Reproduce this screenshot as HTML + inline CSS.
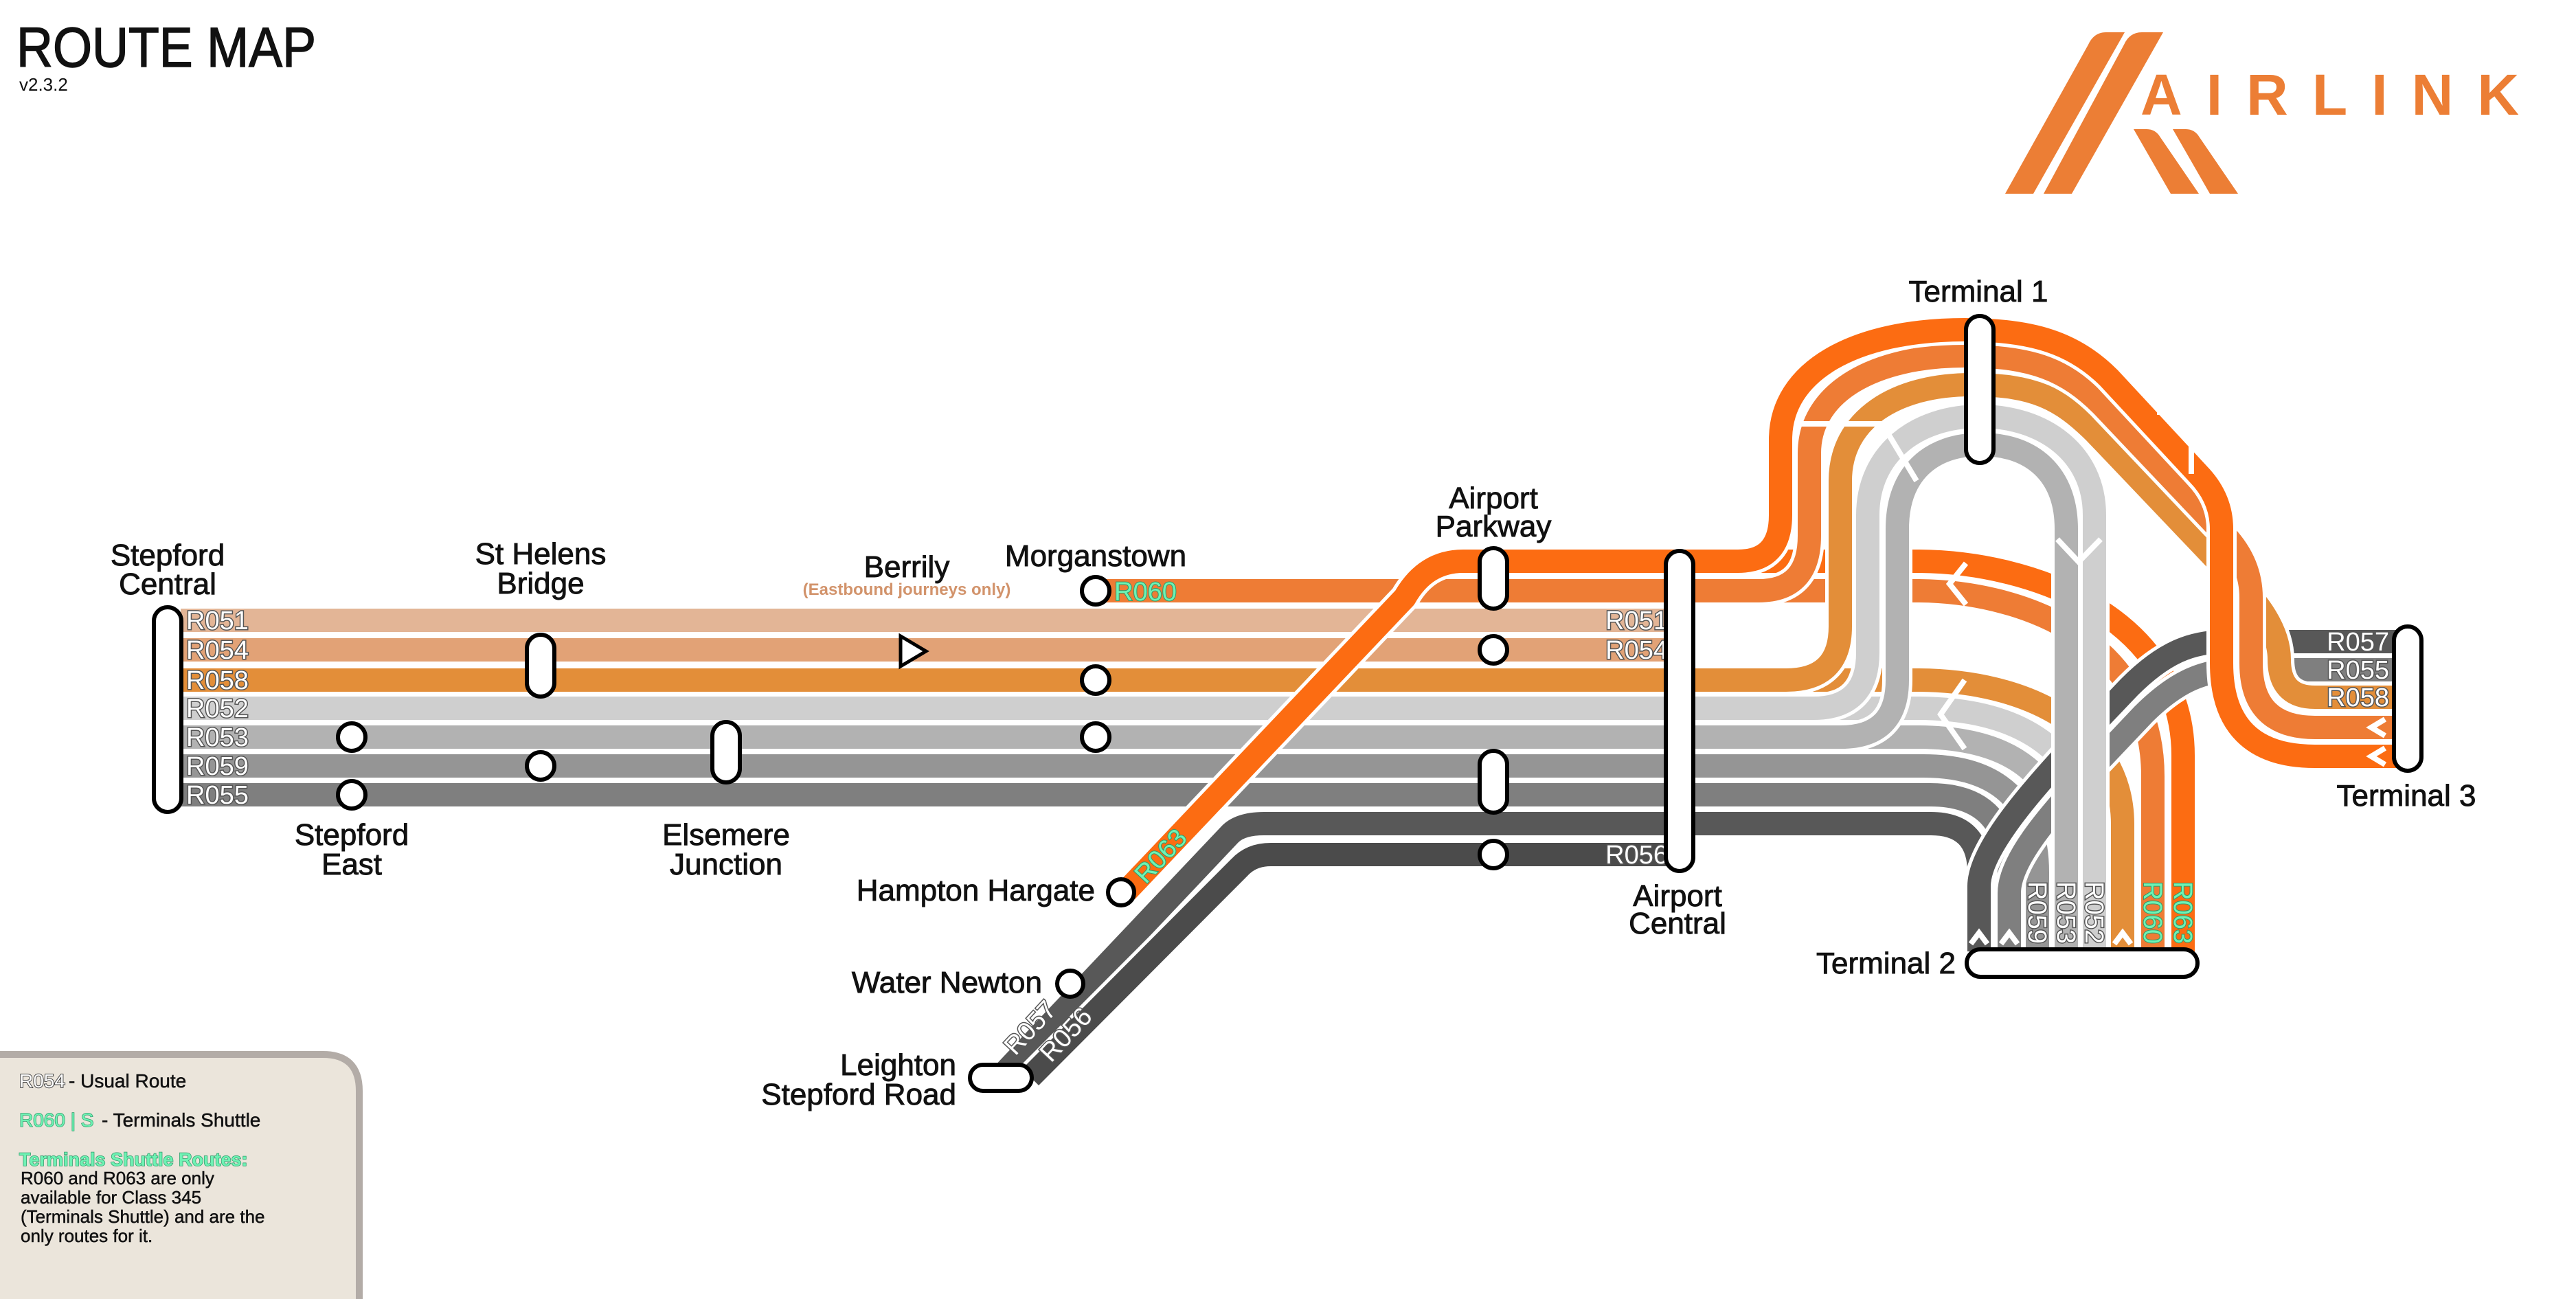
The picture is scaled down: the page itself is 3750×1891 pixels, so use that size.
<!DOCTYPE html>
<html><head><meta charset="utf-8">
<style>
html,body{margin:0;padding:0;background:#fff;}
svg{display:block;font-family:"Liberation Sans","DejaVu Sans",sans-serif;}
.lbl{font-size:38px;fill:#fff;stroke:#555;stroke-width:3;paint-order:stroke;}
.grn{font-size:38px;fill:#6ff2b4;stroke:#2f9a6a;stroke-width:2;paint-order:stroke;}
.st{font-size:44px;fill:#111;stroke:#111;stroke-width:0.9;}
.stn{fill:#fff;stroke:#000;stroke-width:6;}
.chev{fill:none;stroke:#fff;stroke-width:8;stroke-linejoin:miter;}
</style></head>
<body>
<svg width="3750" height="1891" viewBox="0 0 3750 1891" xmlns="http://www.w3.org/2000/svg">
<defs>
<path id="p051" d="M263 903 H2445"/>
<path id="p054" d="M263 946 H2445"/>
<path id="p058" d="M263 990 H2790 C2950 990 3090 1060 3090 1200 V1385"/>
<path id="p052" d="M263 1031 H2790 C2950 1031 3049 1100 3049 1250 V1385"/>
<path id="p053" d="M263 1073 H2790 C2930 1073 3008 1130 3008 1260 V1385"/>
<path id="p059" d="M263 1115 H2800 C2910 1115 2966 1170 2966 1270 V1385"/>
<path id="p055" d="M263 1157 H2810 C2890 1157 2925 1200 2925 1280 V1385"/>
<path id="p057" d="M1455 1569 L1790 1215 Q1805 1199 1840 1199 H2811 Q2881 1199 2881 1270 V1385"/>
<path id="p056" d="M1500 1568 L1805 1262 Q1822 1244 1850 1244 H2445"/>
<path id="p060t" d="M1595 860 H2790 C2940 860 3134 930 3134 1130 V1385"/>
<path id="p063t" d="M2300 817 H2790 C2960 817 3178 900 3178 1100 V1385"/>
<path id="p057b" d="M2881 1385 V1290 C2881 1240 2950 1160 3000 1105 L3100 1000 C3150 950 3190 934 3240 934 H3490"/>
<path id="p055b" d="M2925 1385 V1300 C2925 1250 2990 1180 3030 1135 L3120 1040 C3170 990 3210 975 3260 975 H3490"/>
<path id="l053" d="M2680 1073 Q2762 1073 2762 990 V770 C2762 690 2810 647 2884 647 C2958 647 3008 690 3008 770 V1385"/>
<path id="l052" d="M2640 1031 Q2719 1031 2719 950 V750 C2719 660 2790 606 2882 606 C2975 606 3049 660 3049 750 V1385"/>
<path id="l058" d="M2600 990 Q2679 990 2679 912 V700 C2679 610 2760 560 2870 560 C2960 560 3000 580 3050 630 L3250 840 Q3318 905 3318 960 Q3318 1015 3370 1015 H3490"/>
<path id="l060" d="M2560 860 Q2634 860 2634 780 V660 C2634 570 2730 518 2860 518 C2960 518 3010 540 3060 590 L3240 780 Q3277 820 3277 870 V965 Q3277 1059 3370 1059 H3490"/>
<path id="l063" d="M1640 1297 L2045 870 Q2075 817 2130 817 H2530 Q2592 817 2592 750 V640 C2592 540 2700 480 2860 480 C2960 480 3020 500 3070 550 L3200 690 Q3234 725 3234 770 V965 Q3234 1101 3370 1101 H3490"/>
</defs>

<!-- title -->
<text x="24" y="97" font-size="82" fill="#111" stroke="#111" stroke-width="1.5" textLength="436" lengthAdjust="spacingAndGlyphs">ROUTE MAP</text>
<text x="28" y="132" font-size="26" fill="#111">v2.3.2</text>

<!-- logo -->
<g fill="#ec7e35">
<path d="M2919 282 L3040 65 Q3048 47 3066 47 L3093 47 L2960 282 Z"/>
<path d="M2975 282 L3092 65 Q3100 47 3118 47 L3149 47 L3016 282 Z"/>
<path d="M3106 188 L3125 188 Q3138 188 3145 200 L3201 282 L3160 282 Z"/>
<path d="M3163 188 L3182 188 Q3195 188 3202 200 L3258 282 L3217 282 Z"/>
<text x="3116" y="167" font-size="84" font-weight="bold" textLength="551" lengthAdjust="spacing">AIRLINK</text>
</g>

<!-- lines -->
<g fill="none" stroke-linecap="butt" stroke-linejoin="round">
<use href="#p051" stroke="#fff" stroke-width="44"/><use href="#p051" stroke="#e3b596" stroke-width="34"/>
<use href="#p054" stroke="#fff" stroke-width="44"/><use href="#p054" stroke="#e2a276" stroke-width="34"/>
<use href="#p057" stroke="#fff" stroke-width="44"/><use href="#p057" stroke="#585858" stroke-width="34"/>
<use href="#p055" stroke="#fff" stroke-width="44"/><use href="#p055" stroke="#7f7f7f" stroke-width="34"/>
<use href="#p059" stroke="#fff" stroke-width="44"/><use href="#p059" stroke="#959595" stroke-width="34"/>
<use href="#p053" stroke="#fff" stroke-width="44"/><use href="#p053" stroke="#b2b2b2" stroke-width="34"/>
<use href="#p052" stroke="#fff" stroke-width="44"/><use href="#p052" stroke="#cfcfcf" stroke-width="34"/>
<use href="#p058" stroke="#fff" stroke-width="44"/><use href="#p058" stroke="#e38e39" stroke-width="34"/>
<use href="#p056" stroke="#fff" stroke-width="44"/><use href="#p056" stroke="#4b4b4b" stroke-width="34"/>
<use href="#p060t" stroke="#fff" stroke-width="44"/><use href="#p060t" stroke="#ee7c35" stroke-width="34"/>
<use href="#p063t" stroke="#fff" stroke-width="44"/><use href="#p063t" stroke="#fc6c12" stroke-width="34"/>
<use href="#p055b" stroke="#fff" stroke-width="44"/><use href="#p055b" stroke="#7f7f7f" stroke-width="34"/>
<use href="#p057b" stroke="#fff" stroke-width="44"/><use href="#p057b" stroke="#585858" stroke-width="34"/>
<use href="#l053" stroke="#fff" stroke-width="44"/><use href="#l053" stroke="#b2b2b2" stroke-width="34"/>
<use href="#l052" stroke="#fff" stroke-width="44"/><use href="#l052" stroke="#cfcfcf" stroke-width="34"/>
<use href="#l058" stroke="#fff" stroke-width="44"/><use href="#l058" stroke="#e38e39" stroke-width="34"/>
<use href="#l060" stroke="#fff" stroke-width="44"/><use href="#l060" stroke="#ee7c35" stroke-width="34"/>
<use href="#l063" stroke="#fff" stroke-width="44"/><use href="#l063" stroke="#fc6c12" stroke-width="34"/>
</g>

<!-- chevrons -->
<polyline class="chev" points="2620,617 2740,617 2790,700"/>
<polyline class="chev" points="2995,785 3026,818 3058,785"/>
<polyline class="chev" points="2862,820 2838,850 2862,880"/>
<polyline class="chev" points="2860,990 2825,1040 2860,1090"/>
<polyline class="chev" points="3140,600 3190,600 3190,690"/>
<polyline class="chev" points="3472,1047 3452,1059 3472,1071"/>
<polyline class="chev" points="3472,1089 3452,1101 3472,1113"/>
<polyline class="chev" points="2869,1374 2881,1358 2893,1374"/>
<polyline class="chev" points="2913,1374 2925,1358 2937,1374"/>
<polyline class="chev" points="3078,1374 3090,1358 3102,1374"/>

<!-- route labels -->
<g class="lbl">
<text x="271" y="916">R051</text>
<text x="271" y="959">R054</text>
<text x="271" y="1003">R058</text>
<text x="271" y="1044">R052</text>
<text x="271" y="1086">R053</text>
<text x="271" y="1128">R059</text>
<text x="271" y="1170">R055</text>
<text x="2428" y="916" text-anchor="end">R051</text>
<text x="2428" y="959" text-anchor="end">R054</text>
<text x="2428" y="1257" text-anchor="end">R056</text>
<text x="3478" y="947" text-anchor="end">R057</text>
<text x="3478" y="988" text-anchor="end">R055</text>
<text x="3478" y="1028" text-anchor="end">R058</text>
<text transform="translate(2953,1283) rotate(90)">R059</text>
<text transform="translate(2995,1283) rotate(90)">R053</text>
<text transform="translate(3036,1283) rotate(90)">R052</text>
<text transform="translate(1478,1538) rotate(-47)">R057</text>
<text transform="translate(1530,1548) rotate(-47)">R056</text>
</g>
<g class="grn">
<text x="1622" y="874">R060</text>
<text transform="translate(3121,1283) rotate(90)">R060</text>
<text transform="translate(3165,1283) rotate(90)">R063</text>
<text transform="translate(1668,1288) rotate(-47)">R063</text>
</g>

<!-- stations -->
<g class="stn">
<rect x="224" y="884" width="40" height="298" rx="20"/>
<circle cx="512" cy="1073" r="20"/>
<circle cx="512" cy="1157" r="20"/>
<rect x="767" y="924" width="40" height="90" rx="20"/>
<circle cx="787" cy="1115" r="20"/>
<rect x="1037" y="1051" width="40" height="88" rx="20"/>
<circle cx="1595" cy="860" r="20"/>
<circle cx="1595" cy="990" r="20"/>
<circle cx="1595" cy="1073" r="20"/>
<rect x="2154" y="798" width="40" height="88" rx="20"/>
<circle cx="2174" cy="946" r="20"/>
<rect x="2154" y="1093" width="40" height="90" rx="20"/>
<circle cx="2174" cy="1244" r="20"/>
<rect x="2425" y="802" width="40" height="466" rx="20"/>
<circle cx="1632" cy="1299" r="19"/>
<circle cx="1558" cy="1432" r="19"/>
<rect x="1412" y="1550" width="90" height="38" rx="19"/>
<rect x="2862" y="460" width="40" height="214" rx="20"/>
<rect x="2863" y="1382" width="336" height="40" rx="20"/>
<rect x="3485" y="912" width="40" height="210" rx="20"/>
</g>
<polygon points="1311,926 1348,948 1311,970" fill="#fff" stroke="#000" stroke-width="5"/>

<!-- station names -->
<g class="st" text-anchor="middle">
<text x="244" y="823">Stepford</text><text x="244" y="865">Central</text>
<text x="787" y="821">St Helens</text><text x="787" y="864">Bridge</text>
<text x="1320" y="840">Berrily</text>
<text x="1595" y="824">Morganstown</text>
<text x="2174" y="740">Airport</text><text x="2174" y="781">Parkway</text>
<text x="512" y="1230">Stepford</text><text x="512" y="1273">East</text>
<text x="1057" y="1230">Elsemere</text><text x="1057" y="1273">Junction</text>
<text x="2442" y="1319">Airport</text><text x="2442" y="1359">Central</text>
<text x="2880" y="439">Terminal 1</text>
<text x="3503" y="1173">Terminal 3</text>
</g>
<g class="st" text-anchor="end">
<text x="1594" y="1311">Hampton Hargate</text>
<text x="1517" y="1445">Water Newton</text>
<text x="1392" y="1565">Leighton</text>
<text x="1392" y="1608">Stepford Road</text>
<text x="2847" y="1417">Terminal 2</text>
</g>
<text x="1320" y="866" text-anchor="middle" font-size="24" font-weight="bold" fill="#d2936b">(Eastbound journeys only)</text>

<!-- legend -->
<path d="M-10 1535 H470 Q523 1535 523 1588 V1900 H-10 Z" fill="#ebe5db" stroke="#b3aca7" stroke-width="10"/>
<text x="28" y="1583" font-size="28" fill="#fff" stroke="#444" stroke-width="2" paint-order="stroke">R054</text>
<text x="100" y="1583" font-size="28" fill="#111" stroke="#111" stroke-width="0.5">- Usual Route</text>
<text x="28" y="1640" font-size="28" fill="#6ff2b4" stroke="#2f9a6a" stroke-width="1.5" paint-order="stroke">R060 | S</text>
<text x="148" y="1640" font-size="28" fill="#111" stroke="#111" stroke-width="0.5">- Terminals Shuttle</text>
<text x="28" y="1697" font-size="27" font-weight="bold" fill="#6ff2b4" stroke="#2f9a6a" stroke-width="1.5" paint-order="stroke">Terminals Shuttle Routes:</text>
<g font-size="26" fill="#111" stroke="#111" stroke-width="0.5">
<text x="30" y="1724">R060 and R063 are only</text>
<text x="30" y="1752">available for Class 345</text>
<text x="30" y="1780">(Terminals Shuttle) and are the</text>
<text x="30" y="1808">only routes for it.</text>
</g>
</svg>
</body></html>
